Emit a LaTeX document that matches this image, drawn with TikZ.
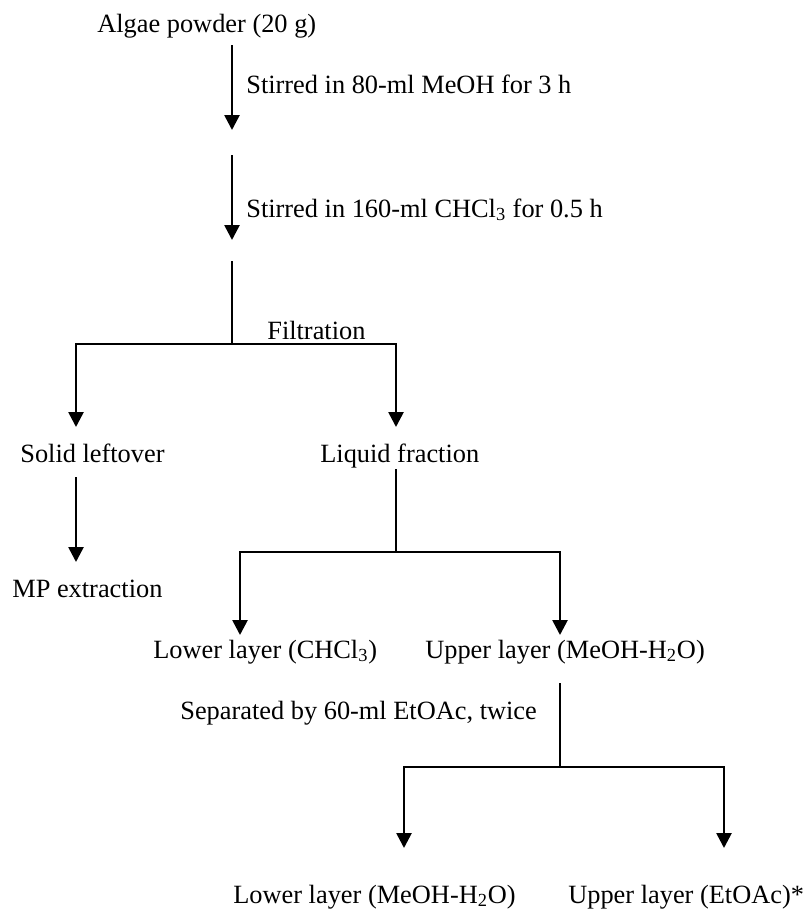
\documentclass[tikz,border=0pt]{standalone}
\usepackage{fontspec}
\setmainfont{Liberation Serif}
\usetikzlibrary{arrows.meta}

\begin{document}
\begin{tikzpicture}[
  txt/.style={anchor=base west, inner sep=0pt, font=\fontsize{15}{18}\selectfont},
  flow/.style={line width=1.5pt},
  arr/.style={flow, -{Triangle[width=8.5pt,length=8.5pt]}}
]
\useasboundingbox (0,0) rectangle (16.12,-18.18);

% labels
\node[txt] (algae)   at (1.94,-0.64)  {Algae powder (20 g)};
\node[txt] (stirA)   at (4.92,-1.86)  {Stirred in 80-ml MeOH for 3 h};
\node[txt] (stirB)   at (4.92,-4.34)  {Stirred in 160-ml CHCl\textsubscript{3} for 0.5 h};
\node[txt] (filtr)   at (5.34,-6.78)  {Filtration};
\node[txt] (solid)   at (0.40,-9.24)  {Solid leftover};
\node[txt] (liquid)  at (6.40,-9.24)  {Liquid fraction};
\node[txt] (mp)      at (0.24,-11.94) {MP extraction};
\node[txt] (lowCHCl) at (3.06,-13.16) {Lower layer (CHCl\textsubscript{3})};
\node[txt] (upMeOH)  at (8.50,-13.16) {Upper layer (MeOH-H\textsubscript{2}O)};
\node[txt] (sepEt)   at (3.60,-14.38) {Separated by 60-ml EtOAc, twice};
\node[txt] (lowMeOH) at (4.66,-18.06) {Lower layer (MeOH-H\textsubscript{2}O)};
\node[txt] (upEt)    at (11.36,-18.06) {Upper layer (EtOAc)*};

% stem
\coordinate (s1) at (4.64,-0.90);
\coordinate (s2) at (4.64,-2.60);
\coordinate (s3) at (4.64,-3.10);
\coordinate (s4) at (4.64,-4.80);
\coordinate (s5) at (4.64,-5.22);
\coordinate (fj) at (4.64,-6.88);

\draw[arr] (s1) -- (s2);
\draw[arr] (s3) -- (s4);
\draw[flow] (s5) -- (fj);

% filtration split
\coordinate (solidTip) at (1.52,-8.54);
\coordinate (liqTip)   at (7.92,-8.54);
\draw[arr] (fj) -| (solidTip);
\draw[arr] (fj) -| (liqTip);

\coordinate (mpTop) at (1.52,-9.54);
\coordinate (mpTip) at (1.52,-11.24);
\draw[arr] (mpTop) -- (mpTip);

% layers
\coordinate (liqBot) at (7.92,-9.38);
\coordinate (lj)     at (7.92,-11.04);
\coordinate (lowTip) at (4.80,-12.70);
\coordinate (upTip)  at (11.20,-12.70);
\draw[flow] (liqBot) -- (lj);
\draw[arr] (lj) -| (lowTip);
\draw[arr] (lj) -| (upTip);

% EtOAc split
\coordinate (upBot)  at (11.20,-13.66);
\coordinate (ej)     at (11.20,-15.34);
\coordinate (meTip)  at (8.08,-16.96);
\coordinate (etTip)  at (14.48,-16.96);
\draw[flow] (upBot) -- (ej);
\draw[arr] (ej) -| (meTip);
\draw[arr] (ej) -| (etTip);

\end{tikzpicture}
\end{document}
